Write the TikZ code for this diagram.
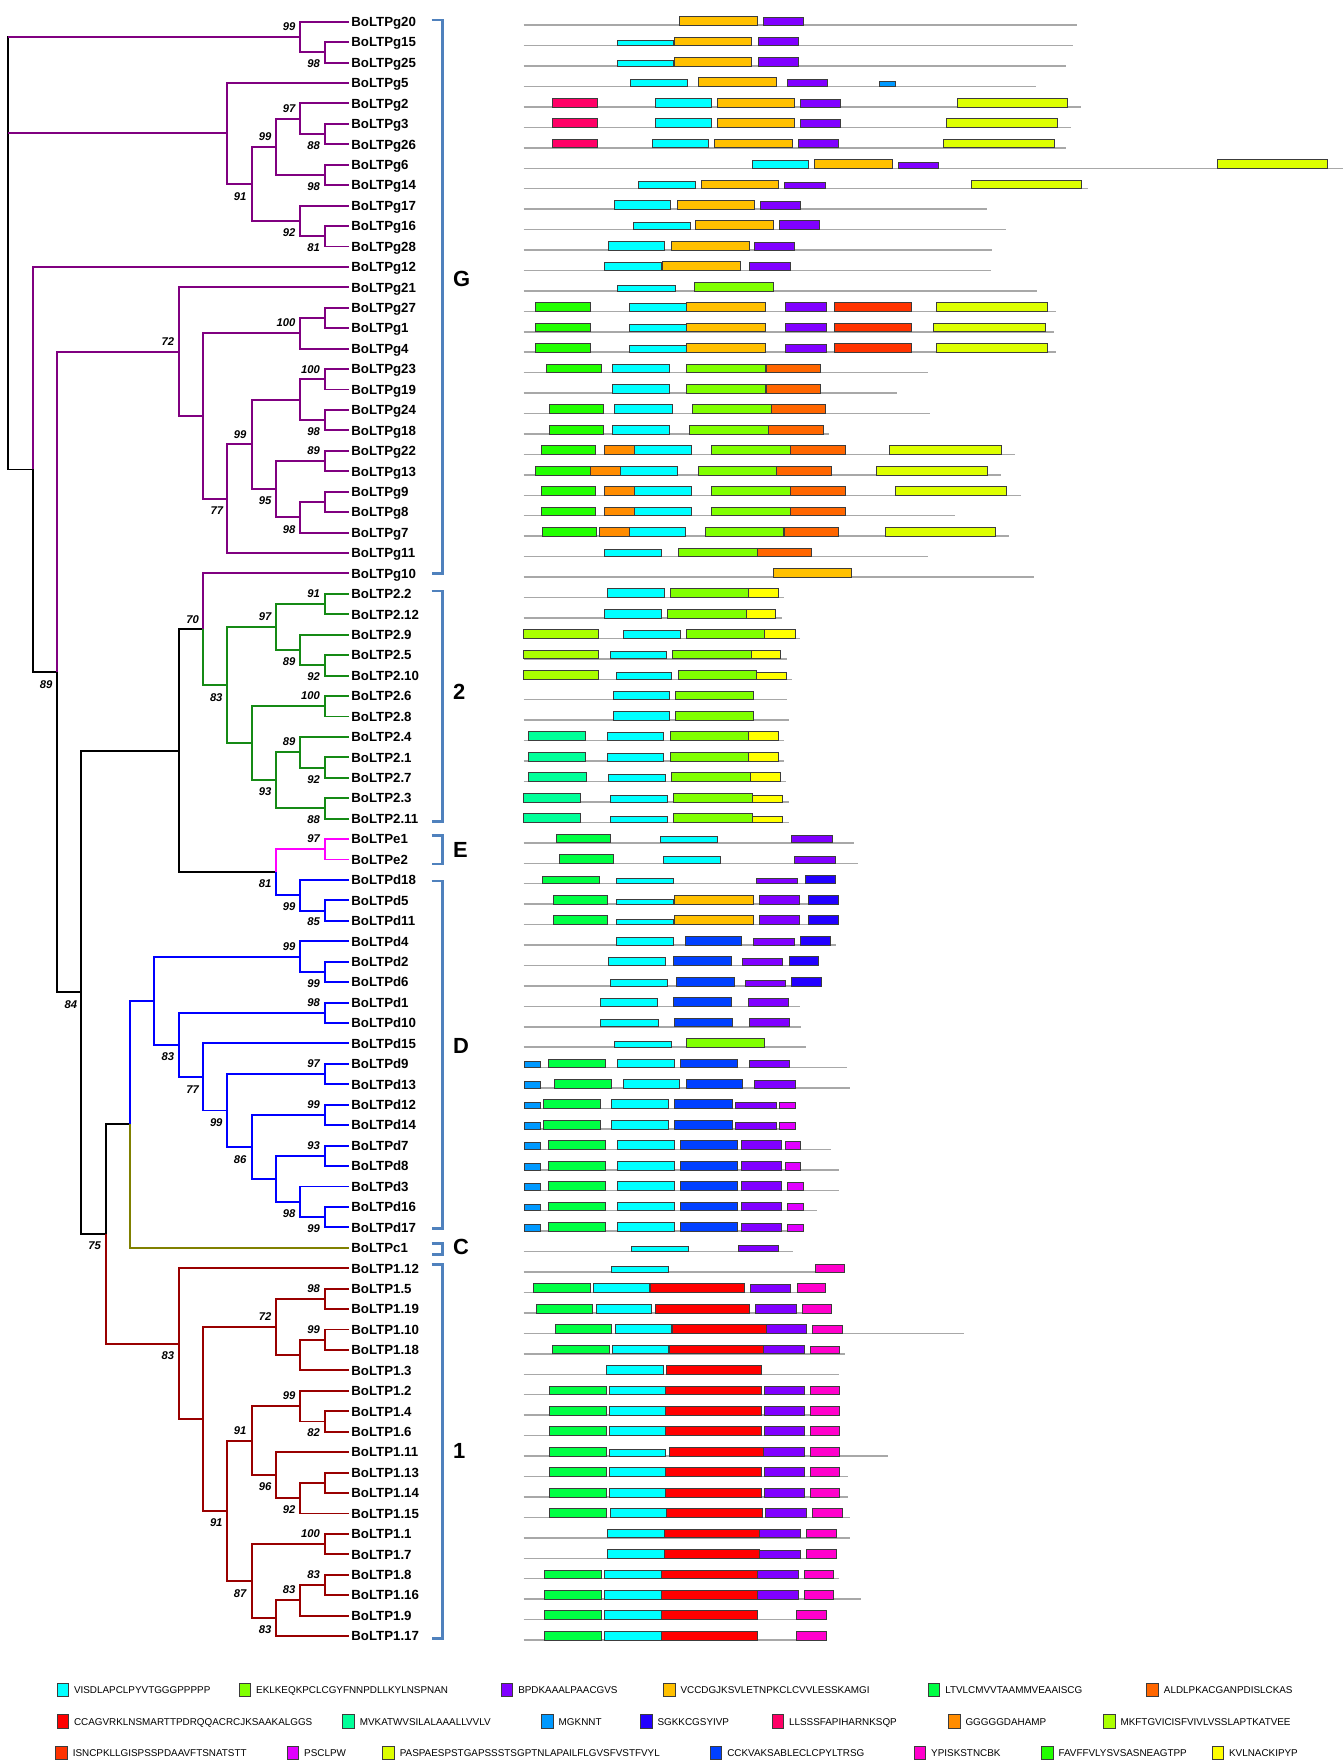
\documentclass[tikz,border=0pt]{standalone}
\usepackage{fontspec}
\setmainfont{Liberation Sans}
\definecolor{cladeG}{HTML}{800080}
\definecolor{cladeT}{HTML}{158A15}
\definecolor{cladeE}{HTML}{FF00FF}
\definecolor{cladeD}{HTML}{0000FF}
\definecolor{cladeC}{HTML}{808000}
\definecolor{cladeO}{HTML}{990000}
\definecolor{brk}{HTML}{4F81BD}
\definecolor{baseGray}{HTML}{A8A8A8}
\definecolor{boxEdge}{HTML}{3C3C3C}
\definecolor{mCy}{HTML}{00FFFF}
\definecolor{mCh}{HTML}{80FF00}
\definecolor{mPu}{HTML}{8000FF}
\definecolor{mOr}{HTML}{FFC000}
\definecolor{mGL}{HTML}{00FF44}
\definecolor{mOR}{HTML}{FF6600}
\definecolor{mRd}{HTML}{FF0000}
\definecolor{mAq}{HTML}{00FF99}
\definecolor{mSb}{HTML}{0099FF}
\definecolor{mBS}{HTML}{2200FF}
\definecolor{mCr}{HTML}{FF0066}
\definecolor{mDO}{HTML}{FF8C00}
\definecolor{mYG}{HTML}{AAFF00}
\definecolor{mOI}{HTML}{FF3300}
\definecolor{mMg}{HTML}{E100FF}
\definecolor{mLy}{HTML}{DDFF00}
\definecolor{mBC}{HTML}{0040FF}
\definecolor{mPk}{HTML}{FF00CC}
\definecolor{mGF}{HTML}{22FF00}
\definecolor{mYl}{HTML}{FFFF00}
\tikzset{
 br/.style={line width=1.7pt},
 eK/.style={br,draw=black},
 eG/.style={br,draw=cladeG},
 eT/.style={br,draw=cladeT},
 eE/.style={br,draw=cladeE},
 eD/.style={br,draw=cladeD},
 eC/.style={br,draw=cladeC},
 eO/.style={br,draw=cladeO},
 leaf/.style={anchor=west, inner xsep=2pt, inner ysep=0pt, font=\fontsize{11.8}{12}\selectfont\bfseries, text height=8.5pt, text depth=0pt},
 boot/.style={anchor=east, inner sep=0pt, font=\fontsize{10}{11}\selectfont\bfseries\itshape, text height=7.2pt, text depth=0pt},
 grp/.style={anchor=west, inner sep=0pt, font=\fontsize{19.5}{20}\selectfont\bfseries, text height=14pt, text depth=0pt},
 bracket/.style={draw=brk, line width=2.3pt},
 base/.style={draw=baseGray, line width=1.3pt},
 mbox/.style={draw=boxEdge, line width=0.6pt},
 legbox/.style={draw=boxEdge, line width=0.8pt},
 legtxt/.style={anchor=west, inner sep=0pt, font=\fontsize{8.8}{10}\selectfont, text height=6.3pt, text depth=0pt},
}
\newcommand\tn[3]{\coordinate (#1) at ({7.4+#2*21.65},{19.3+(#3-1)*18.185});}
\newcommand\ed[3]{\draw[#1] (#2) |- (#3);}
\newcommand\el[3]{\draw[#1] (#2) |- (L#3.west);}
\newcommand\mrw[2]{\def\currow{#1}\draw[base] (466,{22.4+(#1-1)*18.19}) -- (#2,{22.4+(#1-1)*18.19});}
\newcommand\mbx[4][7.8]{\filldraw[mbox,fill=#2] (#3,{22.4+(\currow-1)*18.19}) rectangle (#4,{22.4+(\currow-1)*18.19-#1});}
\begin{document}
\begin{tikzpicture}[x=1pt,y=-1pt]
\useasboundingbox (0,0) rectangle (1196,1568);
\fill[white] (0,0) rectangle (1196,1568);
% ---------- leaves ----------
\foreach \n [count=\i] in {BoLTPg20,BoLTPg15,BoLTPg25,BoLTPg5,BoLTPg2,BoLTPg3,BoLTPg26,BoLTPg6,BoLTPg14,BoLTPg17,BoLTPg16,BoLTPg28,BoLTPg12,BoLTPg21,BoLTPg27,BoLTPg1,BoLTPg4,BoLTPg23,BoLTPg19,BoLTPg24,BoLTPg18,BoLTPg22,BoLTPg13,BoLTPg9,BoLTPg8,BoLTPg7,BoLTPg11,BoLTPg10,BoLTP2.2,BoLTP2.12,BoLTP2.9,BoLTP2.5,BoLTP2.10,BoLTP2.6,BoLTP2.8,BoLTP2.4,BoLTP2.1,BoLTP2.7,BoLTP2.3,BoLTP2.11,BoLTPe1,BoLTPe2,BoLTPd18,BoLTPd5,BoLTPd11,BoLTPd4,BoLTPd2,BoLTPd6,BoLTPd1,BoLTPd10,BoLTPd15,BoLTPd9,BoLTPd13,BoLTPd12,BoLTPd14,BoLTPd7,BoLTPd8,BoLTPd3,BoLTPd16,BoLTPd17,BoLTPc1,BoLTP1.12,BoLTP1.5,BoLTP1.19,BoLTP1.10,BoLTP1.18,BoLTP1.3,BoLTP1.2,BoLTP1.4,BoLTP1.6,BoLTP1.11,BoLTP1.13,BoLTP1.14,BoLTP1.15,BoLTP1.1,BoLTP1.7,BoLTP1.8,BoLTP1.16,BoLTP1.9,BoLTP1.17}
  {\node[leaf] (L\i) at (310.5,{19.3+(\i-1)*18.185}) {\n};}
% ---------- internal nodes ----------
\tn{nA}{12}{1.75}\tn{nA1}{13}{2.5}
\tn{nB}{9}{6.46875}\tn{nB1}{10}{8.9375}\tn{nB2}{11}{7.125}\tn{nB3}{12}{5.75}\tn{nB3a}{13}{6.5}\tn{nB4}{13}{8.5}\tn{nB5}{12}{10.75}\tn{nB5a}{13}{11.5}
\tn{nC}{1}{22.912231}\tn{nC1}{2}{32.824463}
\tn{nG1}{7}{17.1484375}\tn{nG2}{8}{20.296875}\tn{nG3}{12}{16.25}\tn{nG3a}{13}{15.5}\tn{nG4}{9}{24.34375}\tn{nG5}{10}{21.6875}\tn{nG6}{12}{19.5}\tn{nG6a}{13}{18.5}\tn{nG6b}{13}{20.5}\tn{nG7}{11}{23.875}\tn{nG7a}{13}{22.5}\tn{nG7b}{12}{25.25}\tn{nG7c}{13}{24.5}
\tn{nH}{3}{48.500488}\tn{nI}{7}{36.6796875}\tn{nJ}{8}{30.734375}
\tn{nT}{9}{33.46875}\tn{nTa}{11}{30.625}\tn{nTb}{13}{29.5}\tn{nTc}{12}{31.75}\tn{nTc1}{13}{32.5}\tn{nTd}{10}{36.3125}\tn{nTe}{13}{34.5}\tn{nTf}{11}{38.125}\tn{nTg}{12}{36.75}\tn{nTg1}{13}{37.5}\tn{nTh}{13}{39.5}
\tn{nE}{11}{42.625}\tn{nE1}{13}{41.5}\tn{nD1}{12}{43.75}\tn{nD1a}{13}{44.5}
\tn{nK}{4}{60.321289}\tn{nL}{5}{54.955078}\tn{nD}{6}{48.910156}
\tn{nD2}{12}{46.75}\tn{nD2a}{13}{47.5}\tn{nD3}{7}{51.0703125}\tn{nD3a}{13}{49.5}\tn{nD4}{8}{52.640625}\tn{nD5}{9}{54.28125}\tn{nD5a}{13}{52.5}\tn{nD6}{10}{56.0625}\tn{nD6a}{13}{54.5}\tn{nD7}{11}{57.625}\tn{nD7a}{13}{56.5}\tn{nD8}{12}{58.75}\tn{nD8a}{13}{59.5}
\tn{nO}{7}{65.6875}\tn{nOa}{8}{69.375}\tn{nOb}{11}{64.875}\tn{nOc}{13}{63.5}\tn{nOd}{12}{66.25}\tn{nOe}{13}{65.5}\tn{nOf}{9}{73.875}\tn{nOg}{10}{70.4375}\tn{nOh}{12}{68.75}\tn{nOh1}{13}{69.5}\tn{nOi}{11}{72.125}\tn{nOj}{12}{73.25}\tn{nOj1}{13}{72.5}\tn{nOk}{10}{77.3125}\tn{nOl}{13}{75.5}\tn{nOm}{11}{79.125}\tn{nOn}{12}{78.25}\tn{nOo}{13}{77.5}
\coordinate (rA) at (7.4,{19.3+0.75*18.185});
\coordinate (rB) at (7.4,{19.3+5.46875*18.185});
\coordinate (rC) at (7.4,{19.3+21.912231*18.185});
% ---------- edges ----------
\draw[eK,line cap=rect] (rA) -- (rC);
\draw[eG] (rA) -- (nA); \draw[eG] (rB) -- (nB); \draw[eK] (rC) -- (nC);
\el{eG}{nA}{1}\ed{eG}{nA}{nA1}\el{eG}{nA1}{2}\el{eG}{nA1}{3}
\el{eG}{nB}{4}\ed{eG}{nB}{nB1}\ed{eG}{nB1}{nB2}\ed{eG}{nB1}{nB5}\ed{eG}{nB2}{nB3}\ed{eG}{nB2}{nB4}
\el{eG}{nB3}{5}\ed{eG}{nB3}{nB3a}\el{eG}{nB3a}{6}\el{eG}{nB3a}{7}\el{eG}{nB4}{8}\el{eG}{nB4}{9}
\el{eG}{nB5}{10}\ed{eG}{nB5}{nB5a}\el{eG}{nB5a}{11}\el{eG}{nB5a}{12}
\el{eG}{nC}{13}\ed{eK}{nC}{nC1}
\ed{eG}{nC1}{nG1}\ed{eK}{nC1}{nH}
\el{eG}{nG1}{14}\ed{eG}{nG1}{nG2}\ed{eG}{nG2}{nG3}\ed{eG}{nG2}{nG4}
\ed{eG}{nG3}{nG3a}\el{eG}{nG3}{17}\el{eG}{nG3a}{15}\el{eG}{nG3a}{16}
\ed{eG}{nG4}{nG5}\el{eG}{nG4}{27}\ed{eG}{nG5}{nG6}\ed{eG}{nG5}{nG7}
\ed{eG}{nG6}{nG6a}\ed{eG}{nG6}{nG6b}\el{eG}{nG6a}{18}\el{eG}{nG6a}{19}\el{eG}{nG6b}{20}\el{eG}{nG6b}{21}
\ed{eG}{nG7}{nG7a}\ed{eG}{nG7}{nG7b}\el{eG}{nG7a}{22}\el{eG}{nG7a}{23}
\ed{eG}{nG7b}{nG7c}\el{eG}{nG7b}{26}\el{eG}{nG7c}{24}\el{eG}{nG7c}{25}
\ed{eK}{nH}{nI}\ed{eK}{nH}{nK}\ed{eK}{nI}{nJ}\ed{eK}{nI}{nE}
\el{eG}{nJ}{28}\ed{eT}{nJ}{nT}
\ed{eT}{nT}{nTa}\ed{eT}{nT}{nTd}\ed{eT}{nTa}{nTb}\ed{eT}{nTa}{nTc}\el{eT}{nTb}{29}\el{eT}{nTb}{30}
\el{eT}{nTc}{31}\ed{eT}{nTc}{nTc1}\el{eT}{nTc1}{32}\el{eT}{nTc1}{33}
\ed{eT}{nTd}{nTe}\ed{eT}{nTd}{nTf}\el{eT}{nTe}{34}\el{eT}{nTe}{35}
\ed{eT}{nTf}{nTg}\ed{eT}{nTf}{nTh}\el{eT}{nTg}{36}\ed{eT}{nTg}{nTg1}\el{eT}{nTg1}{37}\el{eT}{nTg1}{38}\el{eT}{nTh}{39}\el{eT}{nTh}{40}
\ed{eE}{nE}{nE1}\ed{eD}{nE}{nD1}\el{eE}{nE1}{41}\el{eE}{nE1}{42}
\el{eD}{nD1}{43}\ed{eD}{nD1}{nD1a}\el{eD}{nD1a}{44}\el{eD}{nD1a}{45}
\ed{eK}{nK}{nL}\ed{eO}{nK}{nO}\ed{eD}{nL}{nD}\el{eC}{nL}{61}
\ed{eD}{nD}{nD2}\ed{eD}{nD}{nD3}\el{eD}{nD2}{46}\ed{eD}{nD2}{nD2a}\el{eD}{nD2a}{47}\el{eD}{nD2a}{48}
\ed{eD}{nD3}{nD3a}\ed{eD}{nD3}{nD4}\el{eD}{nD3a}{49}\el{eD}{nD3a}{50}
\el{eD}{nD4}{51}\ed{eD}{nD4}{nD5}\ed{eD}{nD5}{nD5a}\ed{eD}{nD5}{nD6}\el{eD}{nD5a}{52}\el{eD}{nD5a}{53}
\ed{eD}{nD6}{nD6a}\ed{eD}{nD6}{nD7}\el{eD}{nD6a}{54}\el{eD}{nD6a}{55}
\ed{eD}{nD7}{nD7a}\ed{eD}{nD7}{nD8}\el{eD}{nD7a}{56}\el{eD}{nD7a}{57}
\el{eD}{nD8}{58}\ed{eD}{nD8}{nD8a}\el{eD}{nD8a}{59}\el{eD}{nD8a}{60}
\el{eO}{nO}{62}\ed{eO}{nO}{nOa}\ed{eO}{nOa}{nOb}\ed{eO}{nOa}{nOf}
\ed{eO}{nOb}{nOc}\ed{eO}{nOb}{nOd}\el{eO}{nOc}{63}\el{eO}{nOc}{64}\ed{eO}{nOd}{nOe}\el{eO}{nOd}{67}\el{eO}{nOe}{65}\el{eO}{nOe}{66}
\ed{eO}{nOf}{nOg}\ed{eO}{nOf}{nOk}\ed{eO}{nOg}{nOh}\ed{eO}{nOg}{nOi}
\el{eO}{nOh}{68}\ed{eO}{nOh}{nOh1}\el{eO}{nOh1}{69}\el{eO}{nOh1}{70}
\el{eO}{nOi}{71}\ed{eO}{nOi}{nOj}\ed{eO}{nOj}{nOj1}\el{eO}{nOj}{74}\el{eO}{nOj1}{72}\el{eO}{nOj1}{73}
\ed{eO}{nOk}{nOl}\ed{eO}{nOk}{nOm}\el{eO}{nOl}{75}\el{eO}{nOl}{76}
\ed{eO}{nOm}{nOn}\el{eO}{nOm}{80}\ed{eO}{nOn}{nOo}\el{eO}{nOn}{79}\el{eO}{nOo}{77}\el{eO}{nOo}{78}
% ---------- bootstrap values ----------
\foreach \x/\y/\t [count=\i] in {263.1/23.1/99,284.8/56.4/98,263.1/96.4/97,241.8/121.0/99,284.8/129.6/88,219.5/174.4/91,284.8/165.5/98,263.1/206.8/92,284.8/220.4/81,155.1/304.1/72,263.1/287.2/100,284.8/328.4/100,284.8/384.2/98,219.5/386.2/99,284.8/401.1/89,241.8/445.6/95,263.1/470.8/98,198.8/454.5/77,46.9/608.7/89,177.1/551.2/70,284.8/528.1/91,241.8/548.8/97,263.1/588.6/89,284.8/602.2/92,198.2/620.6/83,284.8/619.1/100,263.1/660.1/89,284.8/693.3/92,241.8/704.6/93,284.8/729.2/88,284.8/746.1/97,241.8/786.4/81,263.1/806.8/99,284.8/820.2/85,263.1/841.8/99,284.8/875.1/99,68.8/893.5/84,284.8/892.0/98,155.1/940.3/83,284.8/946.3/97,177.1/969.1/77,284.8/982.7/99,198.2/998.5/99,284.8/1018.9/93,219.5/1031.4/86,263.1/1079.7/98,284.8/1093.1/99,89.9/1108.5/75,155.1/1206.1/83,284.8/1146.5/98,241.8/1171.7/72,284.8/1182.7/99,263.1/1242.0/99,219.5/1272.9/91,284.8/1275.0/82,241.8/1323.0/96,263.1/1343.5/92,198.2/1354.8/91,284.8/1364.6/100,284.8/1400.8/83,263.1/1414.7/83,219.5/1417.7/87,241.8/1450.3/83}
  {\node[boot] (bs\i) at (\x,\y) {\t};}
% ---------- brackets and group letters ----------
\foreach \a/\b in {17.8/510.3,526/731.3,743.7/768.9,784/1093.1,1106.4/1116.2,1125.2/1458}
  {\draw[bracket] (384.2,\a) -- (393.6,\a) -- (393.6,\b) -- (384.2,\b);}
\node[grp] (grpG) at (403,248) {G};
\node[grp] (grp2) at (403,615.6) {2};
\node[grp] (grpE) at (403,756.2) {E};
\node[grp] (grpD) at (403,930.8) {D};
\node[grp] (grpC) at (403,1109.7) {C};
\node[grp] (grp1) at (403,1291.3) {1};
% ---------- motif rows ----------
\mrw{1}{958}\mbx{mOr}{604.4}{674}\mbx[6.8]{mPu}{679.2}{714.7}
\mrw{2}{954.6}\mbx[5]{mCy}{549}{599.2}\mbx{mOr}{599.7}{668.3}\mbx{mPu}{674.5}{710}
\mrw{3}{948.5}\mbx[5]{mCy}{549}{599.2}\mbx{mOr}{599.7}{668.3}\mbx{mPu}{674.5}{710}
\mrw{4}{921.5}\mbx[6.2]{mCy}{561.3}{611.5}\mbx{mOr}{621}{690.5}\mbx[6.8]{mPu}{700.5}{736.5}\mbx[4.7]{mSb}{782.8}{797}
\mrw{5}{962.2}\mbx{mCr}{491.8}{532}\mbx{mCy}{583.1}{632.8}\mbx{mOr}{638.5}{707.1}\mbx[7.1]{mPu}{712.3}{747.8}\mbx{mLy}{852}{950}
\mrw{6}{952.8}\mbx{mCr}{491.8}{532}\mbx{mCy}{583.1}{632.8}\mbx{mOr}{638.5}{707.1}\mbx[7.1]{mPu}{712.3}{747.8}\mbx{mLy}{842.5}{940.5}
\mrw{7}{948.5}\mbx{mCr}{491.8}{532}\mbx{mCy}{580.3}{630.4}\mbx{mOr}{635.6}{705.2}\mbx[7.1]{mPu}{710}{746.4}\mbx{mLy}{839.6}{938.1}
\mrw{8}{1195}\mbx[7.1]{mCy}{669.3}{719.4}\mbx{mOr}{724.6}{793.7}\mbx[4.9]{mPu}{799.4}{834.9}\mbx{mLy}{1083.4}{1180.9}
\mrw{9}{967.9}\mbx[6.5]{mCy}{568.4}{618.6}\mbx{mOr}{623.8}{692.9}\mbx[5.9]{mPu}{698.1}{734.1}\mbx{mLy}{864.3}{962.2}
\mrw{10}{878.4}\mbx{mCy}{547.1}{596.8}\mbx{mOr}{602.5}{671.6}\mbx[6.8]{mPu}{676.3}{711.9}
\mrw{11}{895}\mbx[6.2]{mCy}{563.7}{613.9}\mbx{mOr}{619.1}{688.2}\mbx{mPu}{693.9}{729.4}
\mrw{12}{882.7}\mbx{mCy}{541.5}{591.6}\mbx{mOr}{597.3}{666.4}\mbx[7.1]{mPu}{671.6}{707.1}
\mrw{13}{881.8}\mbx[6.8]{mCy}{537.7}{588.8}\mbx{mOr}{589.3}{658.8}\mbx[7.4]{mPu}{666.9}{702.9}
\mrw{14}{923}\mbx[5.3]{mCy}{549.5}{600.6}\mbx{mCh}{618.1}{688.2}
\mrw{15}{940}\mbx{mGF}{476.6}{524.9}\mbx[6.8]{mCy}{559.9}{610.6}\mbx{mOr}{610.6}{681.1}\mbx{mPu}{698.6}{735}\mbx{mOI}{742.6}{810.8}\mbx{mLy}{833}{932.4}
\mrw{16}{937.6}\mbx{mGF}{476.6}{524.9}\mbx[6.8]{mCy}{559.9}{610.6}\mbx{mOr}{610.6}{681.1}\mbx{mPu}{698.6}{735}\mbx{mOI}{742.6}{810.8}\mbx{mLy}{830.7}{930.5}
\mrw{17}{940}\mbx{mGF}{476.6}{524.9}\mbx[5.9]{mCy}{559.9}{610.6}\mbx{mOr}{610.6}{681.1}\mbx[7.4]{mPu}{698.6}{735}\mbx{mOI}{742.6}{810.8}\mbx{mLy}{833}{932.4}
\mrw{18}{826}\mbx{mGF}{486.1}{534.8}\mbx{mCy}{544.8}{595.9}\mbx{mCh}{610.6}{681.1}\mbx{mOR}{681.6}{730.3}
\mrw{19}{798.5}\mbx{mCy}{544.8}{595.9}\mbx{mCh}{610.6}{681.1}\mbx{mOR}{681.6}{730.3}
\mrw{20}{827.8}\mbx{mGF}{488.5}{537.2}\mbx{mCy}{547.1}{598.3}\mbx{mCh}{615.8}{686.3}\mbx{mOR}{686.8}{734.6}
\mrw{21}{737.9}\mbx{mGF}{488.5}{537.2}\mbx{mCy}{544.8}{595.9}\mbx{mCh}{613.4}{683.5}\mbx{mOR}{683.9}{732.7}
\mrw{22}{903.1}\mbx{mGF}{481.4}{529.6}\mbx{mDO}{537.7}{564.2}\mbx{mCy}{564.7}{615.3}\mbx{mCh}{633.3}{703.3}\mbx{mOR}{703.3}{752.1}\mbx{mLy}{791.8}{891.2}
\mrw{23}{891.2}\mbx{mGF}{476.6}{524.9}\mbx{mDO}{524.9}{551.9}\mbx{mCy}{552.3}{603}\mbx{mCh}{621}{690.5}\mbx{mOR}{691}{739.8}\mbx{mLy}{779.5}{878.9}
\mrw{24}{908.3}\mbx{mGF}{481.4}{529.6}\mbx{mDO}{537.7}{564.2}\mbx{mCy}{564.7}{615.3}\mbx{mCh}{633.3}{703.3}\mbx{mOR}{703.3}{752.1}\mbx{mLy}{796.6}{895.5}
\mrw{25}{850}\mbx{mGF}{481.4}{529.6}\mbx{mDO}{537.7}{564.2}\mbx{mCy}{564.7}{615.3}\mbx{mCh}{633.3}{703.3}\mbx{mOR}{703.3}{752.1}
\mrw{26}{897.9}\mbx{mGF}{482.3}{530.6}\mbx{mDO}{533.4}{559.9}\mbx{mCy}{560.4}{610.1}\mbx{mCh}{628.1}{697.2}\mbx{mOR}{697.7}{745.9}\mbx{mLy}{787.6}{886}
\mrw{27}{826}\mbx[6.8]{mCy}{538.1}{588.8}\mbx{mCh}{603.9}{673.5}\mbx{mOR}{673.5}{721.8}
\mrw{28}{920.1}\mbx{mOr}{688.2}{757.8}
\mrw{29}{697.7}\mbx{mCy}{540.5}{591}\mbx{mCh}{596.6}{666}\mbx{mYl}{666}{692.7}
\mrw{30}{695.7}\mbx{mCy}{538.1}{588.9}\mbx{mCh}{593.6}{663.9}\mbx{mYl}{663.9}{689.7}
\mrw{31}{712}\mbx{mYG}{465.8}{532.8}\mbx[6.8]{mCy}{554.8}{605.5}\mbx{mCh}{610.5}{680.5}\mbx{mYl}{680.5}{707.5}
\mrw{32}{700.1}\mbx{mYG}{465.8}{532.8}\mbx[6.8]{mCy}{542.9}{593}\mbx{mCh}{598.4}{668.7}\mbx{mYl}{668.7}{694.5}
\mrw{33}{704.6}\mbx{mYG}{465.8}{532.8}\mbx[6]{mCy}{548.2}{597.8}\mbx{mCh}{604}{673.1}\mbx[6.5]{mYl}{673.1}{699.8}
\mrw{34}{700.1}\mbx{mCy}{545.6}{595.7}\mbx{mCh}{601}{670.5}
\mrw{35}{701.9}\mbx{mCy}{545.6}{595.7}\mbx{mCh}{601}{670.5}
\mrw{36}{697.7}\mbx{mAq}{470.2}{520.9}\mbx[7.1]{mCy}{540.5}{590.7}\mbx{mCh}{596.6}{666}\mbx{mYl}{666}{692.7}
\mrw{37}{697.7}\mbx{mAq}{470.2}{520.9}\mbx[7.1]{mCy}{540.5}{590.7}\mbx{mCh}{596.6}{666}\mbx{mYl}{666}{692.7}
\mrw{38}{699.5}\mbx{mAq}{470.2}{521.5}\mbx[6.8]{mCy}{541.4}{591.8}\mbx{mCh}{597.5}{667.5}\mbx{mYl}{667.5}{694.5}
\mrw{39}{701.9}\mbx{mAq}{465.8}{516.5}\mbx[5.6]{mCy}{543.2}{594.2}\mbx{mCh}{599.5}{669.9}\mbx[5.6]{mYl}{669.9}{696.5}
\mrw{40}{701.9}\mbx{mAq}{465.8}{516.5}\mbx[5.6]{mCy}{543.2}{594.2}\mbx{mCh}{599.5}{669.9}\mbx[5.6]{mYl}{669.9}{696.5}
\mrw{41}{760.3}\mbx{mGL}{494.8}{542.9}\mbx[5.9]{mCy}{587.7}{638.4}\mbx[6.5]{mPu}{704.6}{740.7}
\mrw{42}{763.3}\mbx{mGL}{497.5}{545.9}\mbx[6.2]{mCy}{590.4}{641.1}\mbx[6.5]{mPu}{707.2}{743.4}
\mrw{43}{743.7}\mbx[6.8]{mGL}{482.7}{533.4}\mbx[4.5]{mCy}{548.8}{599.3}\mbx[5]{mPu}{672.8}{709.6}\mbx{mBS}{716.7}{743.4}
\mrw{44}{746.1}\mbx{mGL}{492.5}{540.8}\mbx[4.2]{mCy}{548.8}{599.3}\mbx{mOr}{599.8}{670.2}\mbx{mPu}{675.5}{711.7}\mbx{mBS}{719.4}{746.1}
\mrw{45}{746.1}\mbx{mGL}{492.5}{540.8}\mbx[4.5]{mCy}{548.8}{599.3}\mbx{mOr}{599.8}{670.2}\mbx{mPu}{675.5}{711.7}\mbx{mBS}{719.4}{746.1}
\mrw{46}{743.7}\mbx[6.8]{mCy}{548.8}{599.3}\mbx{mBC}{609.9}{660.1}\mbx[5.6]{mPu}{670.7}{706.9}\mbx{mBS}{712.3}{738.7}
\mrw{47}{728.6}\mbx[6.8]{mCy}{541.4}{591.8}\mbx{mBC}{599.5}{650.6}\mbx[5.9]{mPu}{660.7}{696.5}\mbx{mBS}{702.5}{728.6}
\mrw{48}{731.3}\mbx[6.2]{mCy}{543.2}{594.2}\mbx{mBC}{602.2}{653.2}\mbx[4.7]{mPu}{663.3}{699.2}\mbx{mBS}{704.6}{731.3}
\mrw{49}{712}\mbx[7.4]{mCy}{534}{585.3}\mbx{mBC}{599.5}{650.6}\mbx[7.4]{mPu}{666}{701.9}
\mrw{50}{712.9}\mbx[6.5]{mCy}{534.6}{585.9}\mbx{mBC}{600.4}{651.5}\mbx[7.1]{mPu}{666.9}{702.8}
\mrw{51}{717.3}\mbx[5.3]{mCy}{546.7}{597.8}\mbx{mCh}{610.5}{680.5}
\mrw{52}{754.1}\mbx[5.6]{mSb}{466.4}{480.6}\mbx{mGL}{488}{539}\mbx{mCy}{549.4}{600.1}\mbx{mBC}{605.8}{656.5}\mbx[6.8]{mPu}{666.9}{702.8}
\mrw{53}{756.5}\mbx[5.6]{mSb}{466.4}{480.6}\mbx{mGL}{493.4}{543.8}\mbx{mCy}{554.5}{604.6}\mbx{mBC}{610.5}{661}\mbx[7.1]{mPu}{671.6}{707.8}
\mrw{54}{708.1}\mbx[5.6]{mSb}{466.4}{480.6}\mbx{mGL}{483.6}{534.3}\mbx{mCy}{544.1}{595.1}\mbx{mBC}{600.4}{651.5}\mbx[5.6]{mPu}{654.7}{690.9}\mbx[5.6]{mMg}{693.3}{708.1}
\mrw{55}{708.1}\mbx[5.6]{mSb}{466.4}{480.6}\mbx{mGL}{483.6}{534.3}\mbx{mCy}{544.1}{595.1}\mbx{mBC}{600.4}{651.5}\mbx[5.6]{mPu}{654.7}{690.9}\mbx[5.6]{mMg}{693.3}{708.1}
\mrw{56}{739.3}\mbx[5.9]{mSb}{466.4}{480.6}\mbx{mGL}{488}{539}\mbx{mCy}{549.4}{600.1}\mbx{mBC}{605.8}{656.5}\mbx{mPu}{659.5}{695.7}\mbx[7.1]{mMg}{698.9}{712.6}
\mrw{57}{747}\mbx[5.9]{mSb}{466.4}{480.6}\mbx{mGL}{488}{539}\mbx{mCy}{549.4}{600.1}\mbx{mBC}{605.8}{656.5}\mbx{mPu}{659.5}{695.7}\mbx[7.1]{mMg}{698.9}{712.6}
\mrw{58}{747}\mbx[5.9]{mSb}{466.4}{480.6}\mbx{mGL}{488}{539}\mbx{mCy}{549.4}{600.1}\mbx{mBC}{605.8}{656.5}\mbx{mPu}{659.5}{695.7}\mbx[6.8]{mMg}{700.7}{715.2}
\mrw{59}{727.4}\mbx[5.9]{mSb}{466.4}{480.6}\mbx{mGL}{488}{539}\mbx{mCy}{549.4}{600.1}\mbx{mBC}{605.8}{656.5}\mbx[7.1]{mPu}{659.5}{695.7}\mbx[6.5]{mMg}{700.7}{715.2}
\mrw{60}{715.2}\mbx[5.9]{mSb}{466.4}{480.6}\mbx{mGL}{488}{539}\mbx{mCy}{549.4}{600.1}\mbx{mBC}{605.8}{656.5}\mbx[7.1]{mPu}{659.5}{695.7}\mbx[6.5]{mMg}{700.7}{715.2}
\mrw{61}{705.5}\mbx[4.7]{mCy}{561.9}{612.3}\mbx[5.6]{mPu}{656.8}{693}
\mrw{62}{751.7}\mbx[5.3]{mCy}{544.4}{595.1}\mbx[6.8]{mPk}{725.9}{751.7}
\mrw{63}{734.8}\mbx{mGL}{475}{525.4}\mbx{mCy}{527.8}{578.2}\mbx{mRd}{578.5}{662.7}\mbx[7.1]{mPu}{667.5}{703.7}\mbx{mPk}{709.3}{734.8}
\mrw{64}{739.6}\mbx{mGL}{477}{527.2}\mbx{mCy}{530.7}{580}\mbx{mRd}{583.5}{667.2}\mbx{mPu}{672.2}{708.7}\mbx{mPk}{714.1}{739.6}
\mrw{65}{858.2}\mbx{mGL}{494.2}{544.4}\mbx{mCy}{547.3}{597.8}\mbx{mRd}{598.1}{682.3}\mbx{mPu}{682.3}{717.9}\mbx[6.8]{mPk}{723.2}{749.6}
\mrw{66}{751.7}\mbx{mGL}{491.9}{542}\mbx{mCy}{544.7}{595.1}\mbx{mRd}{595.4}{679.6}\mbx{mPu}{679.6}{715.5}\mbx[6.5]{mPk}{721.2}{747.3}
\mrw{67}{747}\mbx{mCy}{539.6}{590.4}\mbx{mRd}{592.7}{677.3}
\mrw{68}{747}\mbx{mGL}{488.9}{539.6}\mbx{mCy}{542.3}{592.1}\mbx{mRd}{592.4}{677.3}\mbx{mPu}{680}{715.5}\mbx{mPk}{721.2}{747.3}
\mrw{69}{747}\mbx{mGL}{488.9}{539.6}\mbx{mCy}{542.3}{592.1}\mbx{mRd}{592.4}{677.3}\mbx{mPu}{680}{715.5}\mbx{mPk}{721.2}{747.3}
\mrw{70}{747}\mbx{mGL}{488.9}{539.6}\mbx{mCy}{542.3}{592.1}\mbx{mRd}{592.4}{677.3}\mbx{mPu}{680}{715.5}\mbx{mPk}{721.2}{747.3}
\mrw{71}{790.6}\mbx{mGL}{488.9}{539.6}\mbx[6.2]{mCy}{542.3}{592.1}\mbx{mRd}{595.4}{679.6}\mbx{mPu}{679.6}{715.5}\mbx{mPk}{721.2}{747.3}
\mrw{72}{754.4}\mbx{mGL}{488.9}{539.6}\mbx{mCy}{542.3}{592.1}\mbx{mRd}{592.4}{677.3}\mbx{mPu}{680}{715.5}\mbx{mPk}{721.2}{747.3}
\mrw{73}{754.4}\mbx{mGL}{488.9}{539.6}\mbx{mCy}{542.3}{592.1}\mbx{mRd}{592.4}{677.3}\mbx{mPu}{680}{715.5}\mbx{mPk}{721.2}{747.3}
\mrw{74}{756.5}\mbx{mGL}{488.9}{539.9}\mbx{mCy}{542.9}{593}\mbx{mRd}{593}{678.8}\mbx{mPu}{681.4}{717.3}\mbx{mPk}{723.2}{749.3}
\mrw{75}{756.5}\mbx{mCy}{540.2}{591}\mbx{mRd}{591.2}{676.1}\mbx[7.1]{mPu}{676.1}{712.6}\mbx{mPk}{717.9}{744.6}
\mrw{76}{744.6}\mbx{mCy}{540.2}{591}\mbx{mRd}{591.2}{676.1}\mbx[7.1]{mPu}{676.1}{712.6}\mbx{mPk}{717.9}{744.6}
\mrw{77}{747}\mbx{mGL}{484.2}{535.2}\mbx{mCy}{537.9}{588.3}\mbx{mRd}{588.3}{673.7}\mbx{mPu}{673.7}{710.8}\mbx{mPk}{715.8}{741.6}
\mrw{78}{766.3}\mbx{mGL}{484.2}{535.2}\mbx{mCy}{537.9}{588.3}\mbx{mRd}{588.3}{673.7}\mbx[7.4]{mPu}{673.7}{710.8}\mbx{mPk}{715.8}{741.6}
\mrw{79}{735.1}\mbx{mGL}{484.2}{535.2}\mbx{mCy}{537.9}{588.3}\mbx{mRd}{588.3}{673.7}\mbx{mPk}{708.4}{735.1}
\mrw{80}{735.1}\mbx{mGL}{484.2}{535.2}\mbx{mCy}{537.9}{588.3}\mbx{mRd}{588.3}{673.7}\mbx{mPk}{708.4}{735.1}
% ---------- legend ----------
\foreach \x/\y/\c/\t [count=\i] in {50.7/1504/mCy/VISDLAPCLPYVTGGGPPPPP,212.8/1504/mCh/EKLKEQKPCLCGYFNNPDLLKYLNSPNAN,446/1504/mPu/BPDKAAALPAACGVS,590.4/1504/mOr/VCCDGJKSVLETNPKCLCVVLESSKAMGI,826/1504/mGL/LTVLCMVVTAAMMVEAAISCG,1020.6/1504/mOR/ALDLPKACGANPDISLCKAS,50.7/1532/mRd/CCAGVRKLNSMARTTPDRQQACRCJKSAAKALGGS,305/1532/mAq/MVKATWVSILALAAALLVVLV,482/1532/mSb/MGKNNT,570/1532/mBS/SGKKCGSYIVP,687/1532/mCr/LLSSSFAPIHARNKSQP,844/1532/mDO/GGGGGDAHAMP,982/1532/mYG/MKFTGVICISFVIVLVSSLAPTKATVEE,49.6/1560/mOI/ISNCPKLLGISPSSPDAAVFTSNATSTT,255.5/1560/mMg/PSCLPW,340.6/1560/mLy/PASPAESPSTGAPSSSTSGPTNLAPAILFLGVSFVSTFVYL,632/1560/mBC/CCKVAKSABLECLCPYLTRSG,813.5/1560/mPk/YPISKSTNCBK,926.8/1560/mGF/FAVFFVLYSVSASNEAGTPP,1078.6/1560/mYl/KVLNACKIPYP}
  {\filldraw[legbox,fill=\c] (\x,{\y-6}) rectangle ({\x+10.3},{\y+6});
   \node[legtxt] (lg\i) at ({\x+15},\y) {\t};}
\end{tikzpicture}
\end{document}
